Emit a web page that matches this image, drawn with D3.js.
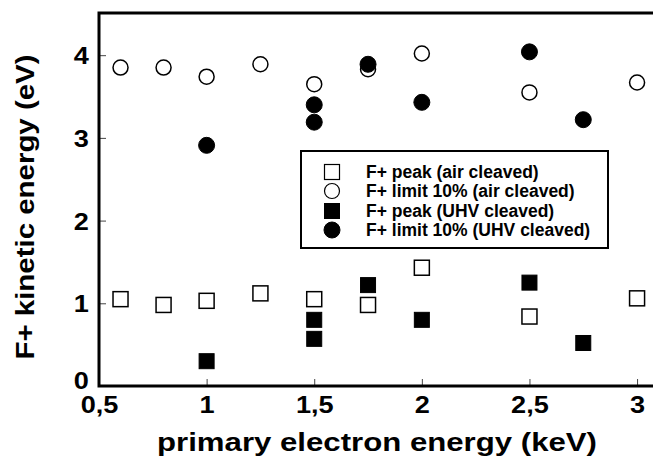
<!DOCTYPE html>
<html>
<head>
<meta charset="utf-8">
<script src="https://cdn.jsdelivr.net/npm/d3@7"></script>
<style>
  body { margin: 0; background: #fff; }
  text { font-family: "Liberation Sans", Arial, sans-serif; font-weight: bold; }
</style>
</head>
<body>
<div id="chart"></div>
<script>
// air cleaved series
const airEnergy = [0.6, 0.8, 1.0, 1.25, 1.5, 1.75, 2.0, 2.5, 3.0];
const airPeak = [1.05, 0.98, 1.03, 1.12, 1.05, 0.98, 1.43, 0.84, 1.06];
const airLimit = [3.85, 3.85, 3.74, 3.89, 3.65, 3.83, 4.02, 3.55, 3.67];
// UHV cleaved series
const uhvEnergy = [1.0, 1.5, 1.5, 1.75, 2.0, 2.5, 2.75];
const uhvPeak = [0.30, 0.80, 0.57, 1.22, 0.80, 1.25, 0.52];
const uhvLimit = [2.91, 3.40, 3.19, 3.89, 3.43, 4.04, 3.22];

const xTicks = [0.5, 1, 1.5, 2, 2.5, 3];
const yTicks = [0, 1, 2, 3, 4];
const legendLabels = [
  "F+ peak (air cleaved)",
  "F+ limit 10% (air cleaved)",
  "F+ peak (UHV cleaved)",
  "F+ limit 10% (UHV cleaved)"
];

const width = 653, height = 457;
const plot = { left: 99, right: 653, top: 13, bottom: 386 };

const svg = d3.select("#chart")
  .append("svg")
  .attr("width", width)
  .attr("height", height);

const x = d3.scaleLinear().domain([0.5, 3.074]).range([plot.left, plot.right]);
const y = d3.scaleLinear().domain([0, 4.51]).range([plot.bottom, plot.top]);

const fmt = d => String(d).replace(".", ",");

// axes with inward ticks
const xAxis = svg.append("g")
  .attr("transform", `translate(0,${plot.bottom})`)
  .call(d3.axisBottom(x).tickValues(xTicks).tickSizeInner(-7).tickSizeOuter(0).tickPadding(9).tickFormat(fmt));
const yAxis = svg.append("g")
  .attr("transform", `translate(${plot.left},0)`)
  .call(d3.axisLeft(y).tickValues(yTicks).tickSizeInner(-7).tickSizeOuter(0).tickPadding(9).tickFormat(fmt));

[xAxis, yAxis].forEach(g => {
  g.select(".domain").remove();
  g.selectAll(".tick line").attr("stroke", "#444").attr("stroke-width", 1);
  g.selectAll(".tick text")
    .attr("font-size", 24)
    .attr("fill", "#000")
    .attr("transform", "scale(1.13,1)");
});
xAxis.selectAll(".tick text").attr("dy", "0.75em");
yAxis.selectAll(".tick text").attr("dy", d => d === 0 ? "0.1em" : "0.36em");

// frame: left, bottom, top
svg.append("path")
  .attr("d", `M${plot.right},${plot.top}H${plot.left}V${plot.bottom}H${plot.right}`)
  .attr("fill", "none")
  .attr("stroke", "#000")
  .attr("stroke-width", 3);

// titles
svg.append("text")
  .attr("x", 377)
  .attr("y", 451)
  .attr("text-anchor", "middle")
  .attr("font-size", 26.5)
  .attr("textLength", 440)
  .attr("lengthAdjust", "spacingAndGlyphs")
  .text("primary electron energy (keV)");

svg.append("text")
  .attr("transform", "translate(34,207) rotate(-90)")
  .attr("text-anchor", "middle")
  .attr("font-size", 25.5)
  .attr("textLength", 305)
  .attr("lengthAdjust", "spacingAndGlyphs")
  .text("F+ kinetic energy (eV)");

const sq = 15, rc = 7.5;

function squares(xs, ys, filled) {
  svg.append("g").selectAll("rect")
    .data(xs.map((d, i) => [d, ys[i]]))
    .join("rect")
    .attr("x", d => x(d[0]) - sq / 2)
    .attr("y", d => y(d[1]) - sq / 2)
    .attr("width", sq)
    .attr("height", sq)
    .attr("fill", filled ? "#000" : "#fff")
    .attr("stroke", "#000")
    .attr("stroke-width", filled ? 1 : 1.5);
}

function circles(xs, ys, filled) {
  svg.append("g").selectAll("circle")
    .data(xs.map((d, i) => [d, ys[i]]))
    .join("circle")
    .attr("cx", d => x(d[0]))
    .attr("cy", d => y(d[1]))
    .attr("r", filled ? rc + 0.5 : rc)
    .attr("fill", filled ? "#000" : "#fff")
    .attr("stroke", "#000")
    .attr("stroke-width", filled ? 1 : 1.5);
}

squares(airEnergy, airPeak, false);
circles(airEnergy, airLimit, false);
squares(uhvEnergy, uhvPeak, true);
circles(uhvEnergy, uhvLimit, true);

// legend
const legend = svg.append("g");
legend.append("rect")
  .attr("x", 301)
  .attr("y", 151)
  .attr("width", 307)
  .attr("height", 97)
  .attr("fill", "#fff")
  .attr("stroke", "#000")
  .attr("stroke-width", 2);

const rowY = [172, 191, 211, 230];
const markX = 332;
legendLabels.forEach((label, i) => {
  const cy = rowY[i];
  const filled = i >= 2;
  if (i % 2 === 0) {
    legend.append("rect")
      .attr("x", markX - sq / 2).attr("y", cy - sq / 2)
      .attr("width", sq).attr("height", sq)
      .attr("fill", filled ? "#000" : "#fff")
      .attr("stroke", "#000").attr("stroke-width", filled ? 1 : 1.2);
  } else {
    legend.append("circle")
      .attr("cx", markX).attr("cy", cy)
      .attr("r", filled ? rc + 0.5 : rc)
      .attr("fill", filled ? "#000" : "#fff")
      .attr("stroke", "#000").attr("stroke-width", filled ? 1 : 1.2);
  }
  legend.append("text")
    .attr("x", 366)
    .attr("y", cy)
    .attr("dy", "0.36em")
    .attr("font-size", 17.5)
    .text(label);
});
</script>
</body>
</html>
